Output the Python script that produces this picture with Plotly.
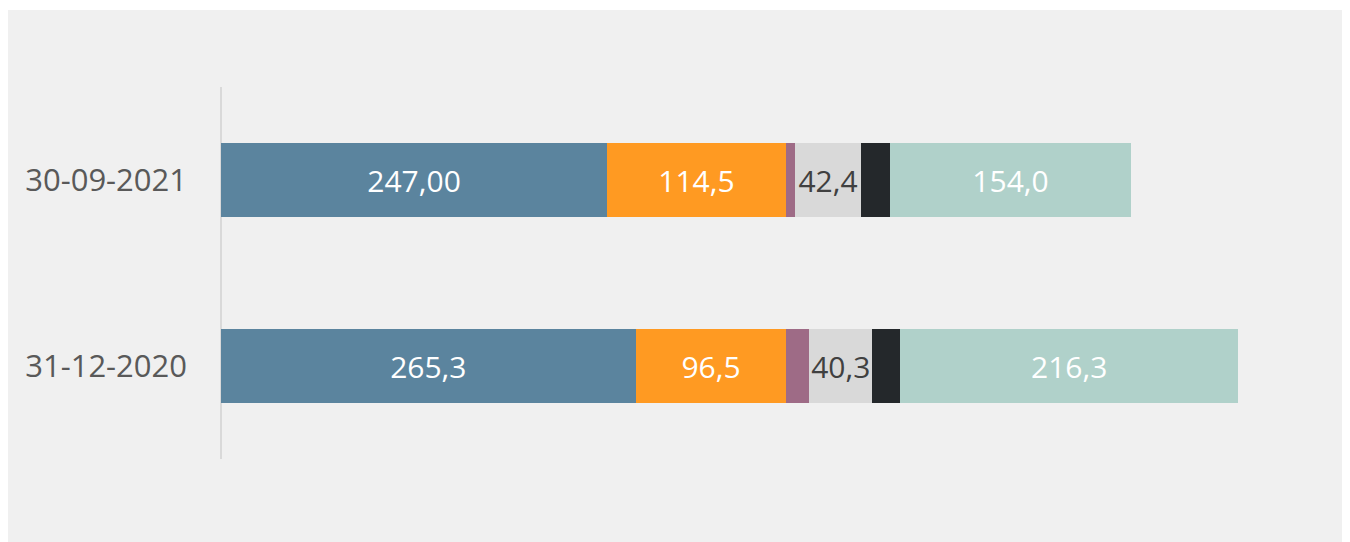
import plotly.graph_objects as go

categories = ["31-12-2020", "30-09-2021"]
series_names = ["S1", "S2", "S3", "S4", "S5", "S6"]
values = {
    "S1": [265.3, 247.0],
    "S2": [96.5, 114.5],
    "S3": [14.6, 5.7],
    "S4": [40.3, 42.4],
    "S5": [17.9, 18.6],
    "S6": [216.3, 154.0],
}
labels = {
    "S1": ["265,3", "247,00"],
    "S2": ["96,5", "114,5"],
    "S3": ["", ""],
    "S4": ["40,3", "42,4"],
    "S5": ["", ""],
    "S6": ["216,3", "154,0"],
}
colors = {
    "S1": "#5b849e",
    "S2": "#ff9a22",
    "S3": "#9e6b86",
    "S4": "#d9d9d9",
    "S5": "#24282b",
    "S6": "#b0d1ca",
}
text_colors = {
    "S1": "#ffffff",
    "S2": "#ffffff",
    "S3": "#ffffff",
    "S4": "#404040",
    "S5": "#ffffff",
    "S6": "#ffffff",
}

FONT = "Open Sans, Noto Sans, sans-serif"

W, H = 1350, 542
L, R, T, B = 213, 43, 79, 91
PW, PH = W - L - R, H - T - B

fig = go.Figure()
for name in series_names:
    fig.add_trace(go.Bar(
        y=categories, x=values[name], orientation="h", name=name,
        marker=dict(color=colors[name], line=dict(width=0)),
        text=labels[name], textposition="inside", insidetextanchor="middle",
        textangle=0, constraintext="none",
        textfont=dict(family=FONT, size=30, color=text_colors[name]),
        width=0.4, hoverinfo="skip",
    ))

fig.update_layout(
    barmode="stack",
    width=W, height=H,
    margin=dict(l=L, r=R, t=T, b=B),
    paper_bgcolor="#f0f0f0",
    plot_bgcolor="rgba(0,0,0,0)",
    showlegend=False,
    font=dict(family=FONT, color="#595959"),
    xaxis=dict(range=[0, 700], visible=False, fixedrange=True),
    yaxis=dict(
        range=[-0.5, 1.5], showgrid=False, zeroline=False,
        showline=False, ticks="", ticklabelstandoff=33,
        tickfont=dict(family=FONT, size=31, color="#595959"),
    ),
    shapes=[
        dict(type="rect", xref="paper", yref="paper",
             x0=-L / PW, x1=(W - L) / PW, y0=(PH + T - 2) / PH, y1=(PH + T) / PH,
             fillcolor="#ffffff", line=dict(width=0), layer="below"),
        dict(type="line", xref="paper", yref="paper",
             x0=0, x1=0, y0=0, y1=1,
             line=dict(color="#d9d9d9", width=2), layer="below"),
    ],
)

fig.write_html("out.html")
